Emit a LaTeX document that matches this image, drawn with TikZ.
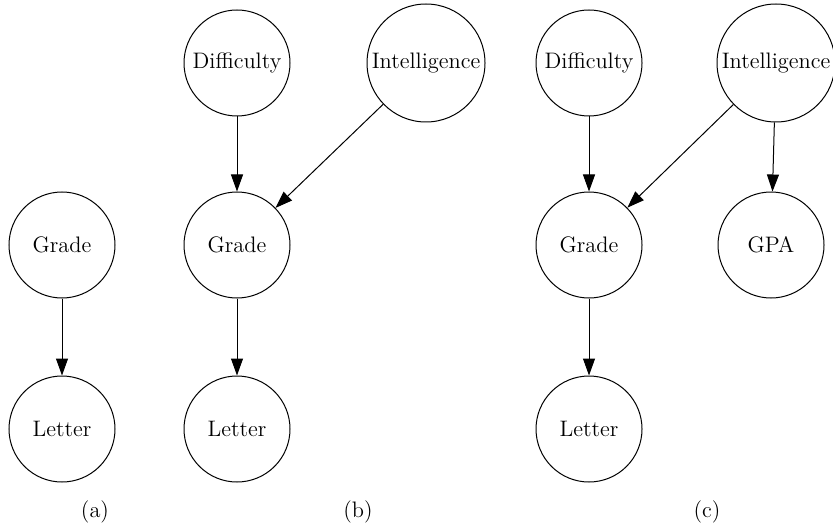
\documentclass[tikz,border=0pt]{standalone}
\usetikzlibrary{arrows.meta}
\begin{document}
\begin{tikzpicture}[x=0.5pt,y=-0.5pt,
  var/.style={circle,draw,line width=0.5pt,minimum size=53pt,inner sep=0pt,font=\fontsize{11.2}{13}\selectfont},
  bigvar/.style={var,minimum size=59pt},
  sublabel/.style={font=\fontsize{11.2}{13}\selectfont},
  arc/.style={line width=0.5pt,-{Triangle[length=8.5pt,width=6pt]}}]
\useasboundingbox (0,0) rectangle (833,529);
% (a)
\node[var] (aG) at (62,245) {Grade};
\node[var] (aL) at (62,429) {Letter};
\node[sublabel] (la) at (95,512) {(a)};
\draw[arc] (aG) -- (aL);
% (b)
\node[var] (bD) at (237,63) {Difficulty};
\node[bigvar] (bI) at (426,63) {Intelligence};
\node[var] (bG) at (237,245) {Grade};
\node[var] (bL) at (237,429) {Letter};
\node[sublabel] (lb) at (358,512) {(b)};
\draw[arc] (bD) -- (bG);
\draw[arc] (bI) -- (bG);
\draw[arc] (bG) -- (bL);
% (c)
\node[var] (cD) at (589,63) {Difficulty};
\node[bigvar] (cI) at (776,63) {Intelligence};
\node[var] (cG) at (589,245) {Grade};
\node[var] (cP) at (771,245) {GPA};
\node[var] (cL) at (589,429) {Letter};
\node[sublabel] (lc) at (707,512) {(c)};
\draw[arc] (cD) -- (cG);
\draw[arc] (cI) -- (cG);
\draw[arc] (cI) -- (cP);
\draw[arc] (cG) -- (cL);
\end{tikzpicture}
\end{document}
